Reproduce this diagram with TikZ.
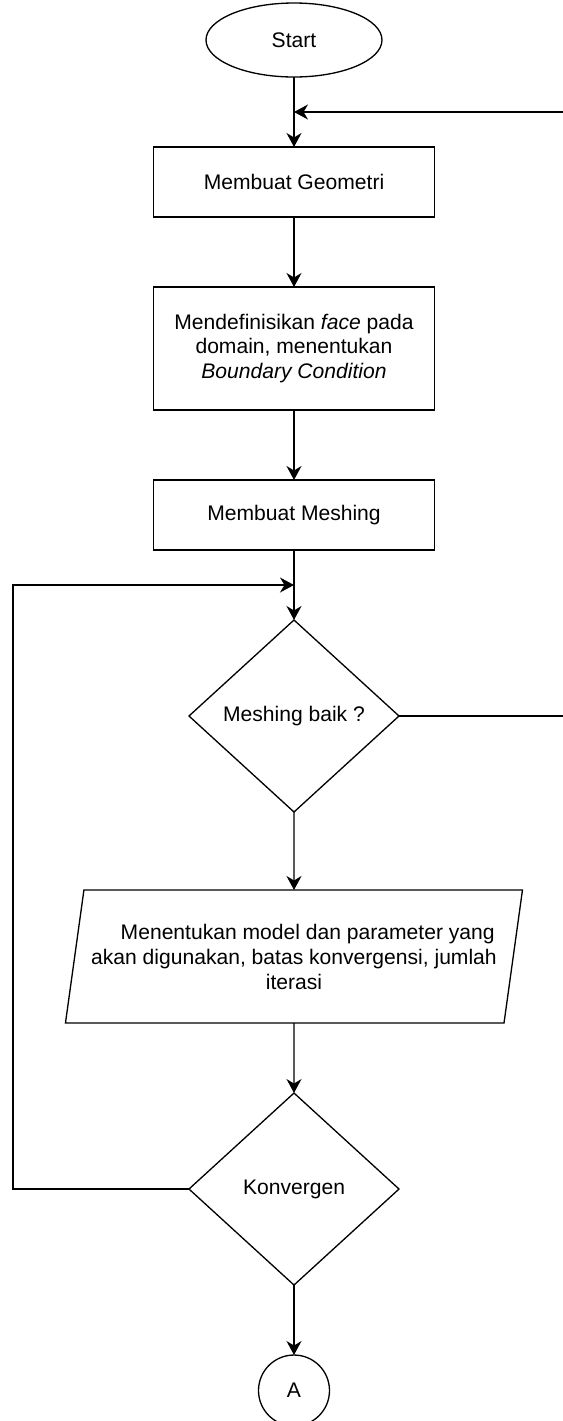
\documentclass[tikz,border=0pt]{standalone}
\usepackage{fontspec}
\setmainfont{Liberation Sans}
\usetikzlibrary{shapes.geometric, arrows.meta, positioning, calc}

\tikzset{
  base/.style={draw=black, line width=0.75pt, font=\fontsize{12}{14.2}\selectfont,
    align=center, inner sep=2pt, outer sep=0pt},
  term/.style={base, ellipse, minimum width=3.52cm, minimum height=1.48cm},
  proc/.style={base, rectangle, minimum width=5.62cm, minimum height=1.4cm},
  dec/.style={base, diamond, minimum width=4.2cm, minimum height=3.84cm, inner sep=0pt},
  io/.style={base, trapezium, trapezium left angle=75.7, trapezium right angle=104.3,
    trapezium stretches body, minimum width=9.14cm, minimum height=2.66cm},
  conn/.style={base, circle, minimum size=1.42cm},
  arr/.style={-{Stealth[length=0.28cm, width=0.3cm, inset=0.09cm]}, line width=0.75pt},
}

\begin{document}
\begin{tikzpicture}[node distance=1.4cm]
  \useasboundingbox (0,0) rectangle (11.26,-28.42);

  % main column
  \node[term] (start) at (5.88,-0.8) {Start};
  \node[proc, below=of start] (geo) {Membuat Geometri};
  \node[proc, below=of geo, minimum height=2.46cm] (bc)
       {Mendefinisikan \textit{face} pada\\ domain, menentukan\\ \textit{Boundary Condition}};
  \node[proc, below=of bc] (mesh) {Membuat Meshing};
  \node[dec, below=of mesh] (dmesh) {Meshing baik ?};
  \node[io, below=1.56cm of dmesh] (param)
       {\hspace*{0.55cm}Menentukan model dan parameter yang\\
        akan digunakan, batas konvergensi, jumlah\\ iterasi};
  \node[dec, below=of param] (konv) {Konvergen};
  \node[conn, below=of konv] (A) {A};

  % merge points on the main line
  \coordinate (mrg1) at ($(start.south)!0.5!(geo.north)$);
  \coordinate (mrg2) at ($(mesh.south)!0.5!(dmesh.north)$);
  \coordinate (lft) at (0.26,0);
  \coordinate (rgt) at (12,0);

  \draw[arr] (start) -- (geo);
  \draw[arr] (geo) -- (bc);
  \draw[arr] (bc) -- (mesh);
  \draw[arr] (mesh) -- (dmesh);
  \draw[arr] (dmesh) -- (param);
  \draw[arr] (param) -- (konv);
  \draw[arr] (konv) -- (A);

  % loops back
  \draw[arr] (dmesh.east) -- (dmesh.east -| rgt) |- (mrg1);
  \draw[arr] (konv.west) -- (konv.west -| lft) |- (mrg2);
\end{tikzpicture}
\end{document}
